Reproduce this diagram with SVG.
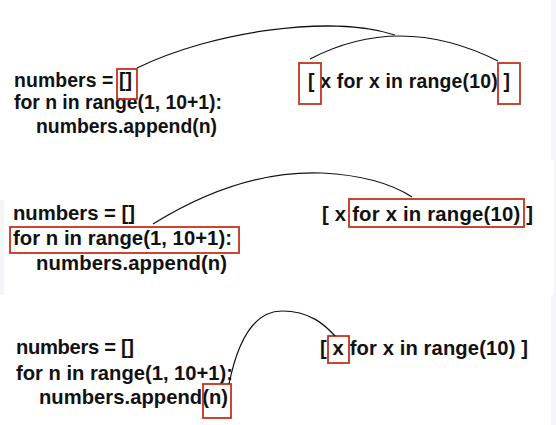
<svg xmlns="http://www.w3.org/2000/svg" width="556" height="425" viewBox="0 0 556 425">
  <style>
    .code { font-family: "Liberation Sans", Arial, Helvetica, sans-serif; font-weight: bold; fill: #111; }
    .p1 { font-size: 19.4px; }
    .p2 { font-size: 20.3px; }
    .p3 { font-size: 20.2px; }
    .hl { fill: none; stroke: #c4321f; stroke-width: 1.8; }
    .link { fill: none; stroke: #111; stroke-width: 1.2; }
  </style>
  <rect x="0" y="0" width="556" height="425" fill="#ffffff"/>
  <rect x="551" y="0" width="5" height="160" fill="#f4f5f8"/>
  <rect x="554" y="160" width="2" height="135" fill="#f4f5f8"/>
  <rect x="551" y="295" width="5" height="130" fill="#f4f5f8"/>
  <rect x="0" y="200" width="4" height="95" fill="#f4f5f8"/>

  <g id="panel1-loop">
    <text class="code p1" x="14" y="87" textLength="118" lengthAdjust="spacing">numbers = []</text>
    <text class="code p1" x="14" y="109" textLength="208" lengthAdjust="spacing">for n in range(1, 10+1):</text>
    <text class="code p1" x="36" y="133" textLength="181" lengthAdjust="spacing">numbers.append(n)</text>
    <rect class="hl" x="117" y="69" width="20" height="30"/>
  </g>
  <g id="panel1-comp">
    <text class="code p1" x="308" y="88" textLength="202" lengthAdjust="spacing">[ x for x in range(10) ]</text>
    <rect class="hl" x="299" y="63" width="22" height="41"/>
    <rect class="hl" x="498" y="63" width="22" height="41"/>
  </g>

  <g id="panel2-loop">
    <text class="code p2" x="13" y="220" textLength="122" lengthAdjust="spacing">numbers = []</text>
    <text class="code p2" x="13" y="245" textLength="219" lengthAdjust="spacing">for n in range(1, 10+1):</text>
    <text class="code p2" x="36" y="270" textLength="191" lengthAdjust="spacing">numbers.append(n)</text>
    <rect class="hl" x="10" y="227" width="229" height="26"/>
  </g>
  <g id="panel2-comp">
    <text class="code p2" x="322" y="221" textLength="211" lengthAdjust="spacing">[ x for x in range(10) ]</text>
    <rect class="hl" x="349" y="199" width="175" height="28"/>
  </g>

  <g id="panel3-loop">
    <text class="code p3" x="16" y="354" textLength="118" lengthAdjust="spacing">numbers = []</text>
    <text class="code p3" x="16" y="380" textLength="217" lengthAdjust="spacing">for n in range(1, 10+1):</text>
    <text class="code p3" x="39" y="404" textLength="189" lengthAdjust="spacing">numbers.append(n)</text>
    <rect class="hl" x="203" y="384" width="28" height="34"/>
  </g>
  <g id="panel3-comp">
    <text class="code p3" x="320" y="355" textLength="208" lengthAdjust="spacing">[ x for x in range(10) ]</text>
    <rect class="hl" x="328" y="336" width="21" height="27"/>
  </g>

  <g id="connectors">
    <path class="link" d="M137,68 C210,32 330,14 395,35"/>
    <path class="link" d="M310,59 Q400,12 498,61"/>
    <path class="link" d="M153,224 Q240,170 322,173 Q380,176 412,197"/>
    <path class="link" d="M229,384 C240,330 260,311 282,311 C310,311 325,325 335,336"/>
  </g>
</svg>
